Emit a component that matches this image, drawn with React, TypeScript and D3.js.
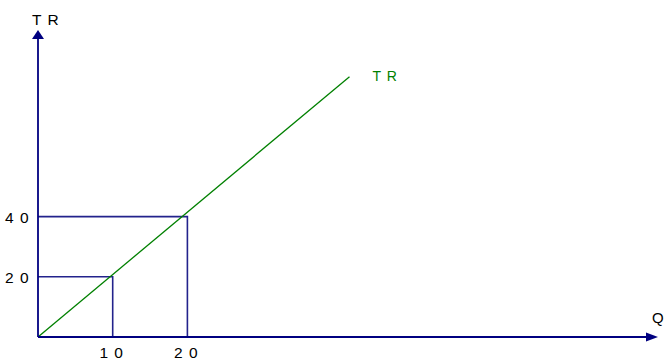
import React from "react";
import * as d3 from "d3";

// quantities marked on the Q axis and the matching total revenue
const qMarks = [10, 20];
const trMarks = [20, 40];

// the TR line (start and end point)
const trLineQ = [0, 41.7];
const trLineTR = [0, 86.5];

const qTickLabels = ["1 0", "2 0"];
const trTickLabels = ["2 0", "4 0"];

const W = 665;
const H = 360;

const App = () => {
  const x = d3.scaleLinear().domain([0, 83]).range([38, 658]);
  const y = d3.scaleLinear().domain([0, 102]).range([337, 30]);

  const navy = "#000080";
  const guide = "#23238c";
  const green = "#008000";
  const font = "'Liberation Sans', Arial, sans-serif";

  const trLine = d3
    .line<number>()
    .x((d) => x(trLineQ[d]))
    .y((d) => y(trLineTR[d]));

  const x0 = x(0);
  const y0 = y(0);
  const xEnd = x.range()[1];
  const yEnd = y.range()[1];

  return (
    <svg
      width={W}
      height={H}
      style={{ position: "absolute", left: 0, top: 0, background: "#fff" }}
    >
      {/* guide lines */}
      {qMarks.map((q, i) => (
        <path
          key={"g" + i}
          d={`M${x0},${y(trMarks[i])}H${x(q)}V${y0}`}
          fill="none"
          stroke={guide}
          strokeWidth={1.6}
        />
      ))}

      {/* TR line */}
      <path d={trLine([0, 1]) || ""} fill="none" stroke={green} strokeWidth={1.3} />

      {/* axes */}
      <line x1={x0} y1={y0} x2={x0} y2={yEnd + 8} stroke={navy} strokeWidth={1.8} />
      <line x1={x0} y1={y0} x2={xEnd - 10} y2={y0} stroke={navy} strokeWidth={1.8} />
      <path d={`M${x0},${yEnd}L${x0 - 6},${yEnd + 9}L${x0 + 6},${yEnd + 9}Z`} fill={navy} />
      <path d={`M${xEnd},${y0}L${xEnd - 12},${y0 - 4.5}L${xEnd - 12},${y0 + 4.5}Z`} fill={navy} />

      {/* labels */}
      <g fontFamily={font} fill="#000" letterSpacing={1}>
        <text x={32} y={24.5} fontSize={15.5}>T R</text>
        <text x={652} y={322.5} fontSize={15} letterSpacing={0}>Q</text>
        {qMarks.map((q, i) => (
          <text key={"qx" + i} x={x(q) - 1} y={358} fontSize={15.5} textAnchor="middle">
            {qTickLabels[i]}
          </text>
        ))}
        {trMarks.map((t, i) => (
          <text key={"ty" + i} x={5} y={y(t) + 6} fontSize={15.5}>
            {trTickLabels[i]}
          </text>
        ))}
      </g>
      <text
        x={x(trLineQ[1]) + 23}
        y={y(trLineTR[1]) + 4}
        fontFamily={font}
        fontSize={14}
        letterSpacing={1}
        fill={green}
      >
        T R
      </text>
    </svg>
  );
};

export default App;
